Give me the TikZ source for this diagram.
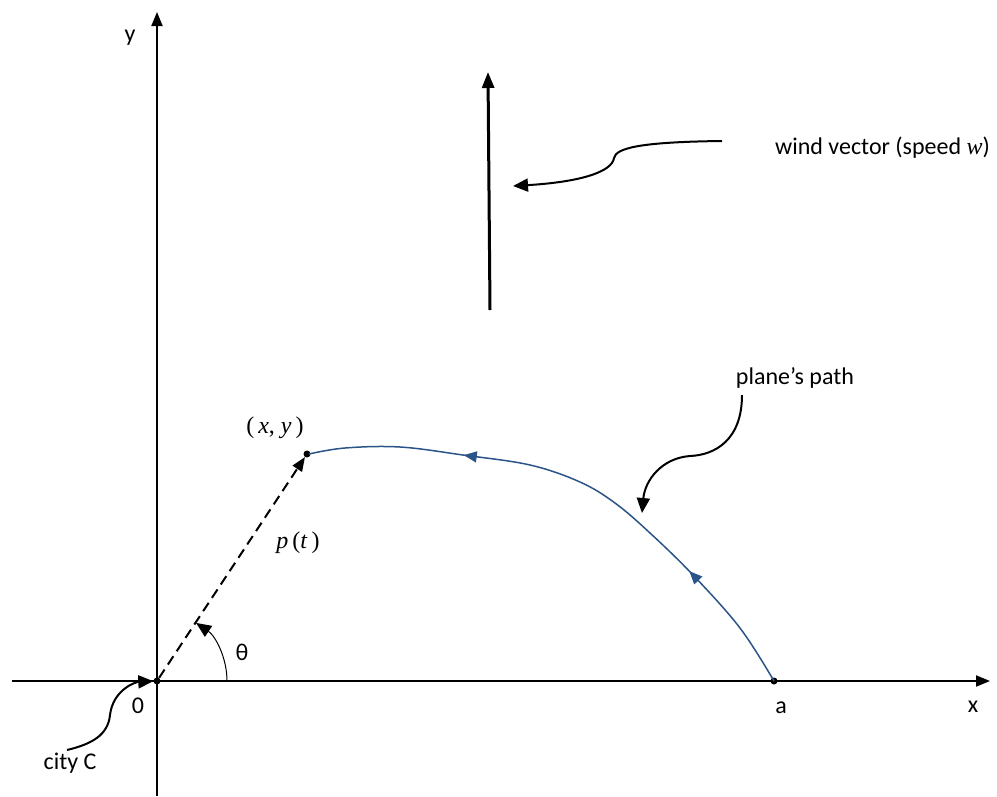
\documentclass[tikz,border=0pt]{standalone}
\usepackage{fontspec}
\setmainfont{Carlito}
\newfontfamily\cmb{Liberation Serif}
\usetikzlibrary{arrows.meta,decorations.markings}
\definecolor{pathblue}{HTML}{2B5489}
\begin{document}
\begin{tikzpicture}[x=1pt,y=-1pt,
  axis/.style={line width=2pt,-{Triangle[length=14pt,width=11pt]}},
  lbl/.style={font=\fontsize{24}{28}\selectfont, inner sep=0pt},
  mlbl/.style={font=\cmb\fontsize{24}{28}\selectfont, inner sep=0pt},
  callout/.style={line width=2pt,-{Triangle[length=15pt,width=13pt]}},
  dotpt/.style={circle,fill,inner sep=0pt,minimum size=7pt},
  planepath/.style={pathblue,line width=1.5pt,
    postaction={decorate,decoration={markings,
      mark=at position 0.25 with {\arrow{Triangle[length=13pt,width=11pt]}},
      mark=at position 0.72 with {\arrow{Triangle[length=13pt,width=11pt]}}}}}]
\useasboundingbox (0,0) rectangle (997,796);
% axes
\coordinate (xl) at (12,681);
\coordinate (xr) at (990,681);
\coordinate (yb) at (157,796);
\coordinate (yt) at (157,12);
\draw[axis] (xl) -- (xr);
\draw[axis] (yb) -- (yt);
% points
\node[dotpt] (O) at (157,681) {};
\node[dotpt] (A) at (774,681) {};
\node[dotpt] (P) at (307,454) {};
% labels
\node[lbl] (ylab) at (130,38) {y};
\node[lbl] (xlab) at (973,707) {x};
\node[lbl] (zero) at (138,706) {0};
\node[lbl] (alab) at (781,708) {a};
\node[lbl] (city) at (70,763) {city C};
\node[lbl] (theta) at (242,652) {θ};
\node[mlbl] (xy) at (275,428) {(\,\textit{x}, \textit{y}\,)};
\node[mlbl] (pt) at (298,543) {\textit{p}\,(\textit{t}\,)};
\node[lbl,anchor=west] (wind) at (775,148) {wind vector (speed {\cmb\textit{w}})};
\node[lbl] (plane) at (795,378) {plane’s path};
% position vector
\draw[line width=2pt,dash pattern=on 10pt off 6pt,-{Triangle[length=14pt,width=11pt]}] (O) -- (P);
% angle arc
\draw[line width=1pt,-{Triangle[length=15pt,width=13pt]}] (227,681) arc[start angle=0,end angle=-56,radius=70];
% plane path
\draw[planepath] plot[smooth,tension=0.6] coordinates {(774,681) (740,628) (693,575) (650,533) (615,503) (580,482) (530,465) (463,455) (400,447) (345,448) (309,454)};
% wind vector
\coordinate (w0) at (490,310);
\coordinate (w1) at (488,72);
\draw[line width=3pt,-{Triangle[length=16pt,width=12pt]}] (w0) -- (w1);
% callouts
\coordinate (wc0) at (722,141);
\coordinate (wc1) at (513,186);
\draw[callout] (wc0) .. controls (640,142) and (616,148) .. (614,158) .. controls (612,172) and (580,182) .. (wc1);
\coordinate (pc0) at (742,395);
\coordinate (pc1) at (642,513);
\draw[callout] (pc0) .. controls (742,440) and (715,455) .. (690,456) .. controls (662,458) and (645,480) .. (pc1);
\coordinate (cc0) at (67,750);
\draw[callout] (cc0) .. controls (92,744) and (108,735) .. (110,715) .. controls (113,690) and (135,682) .. (O);
\end{tikzpicture}
\end{document}
